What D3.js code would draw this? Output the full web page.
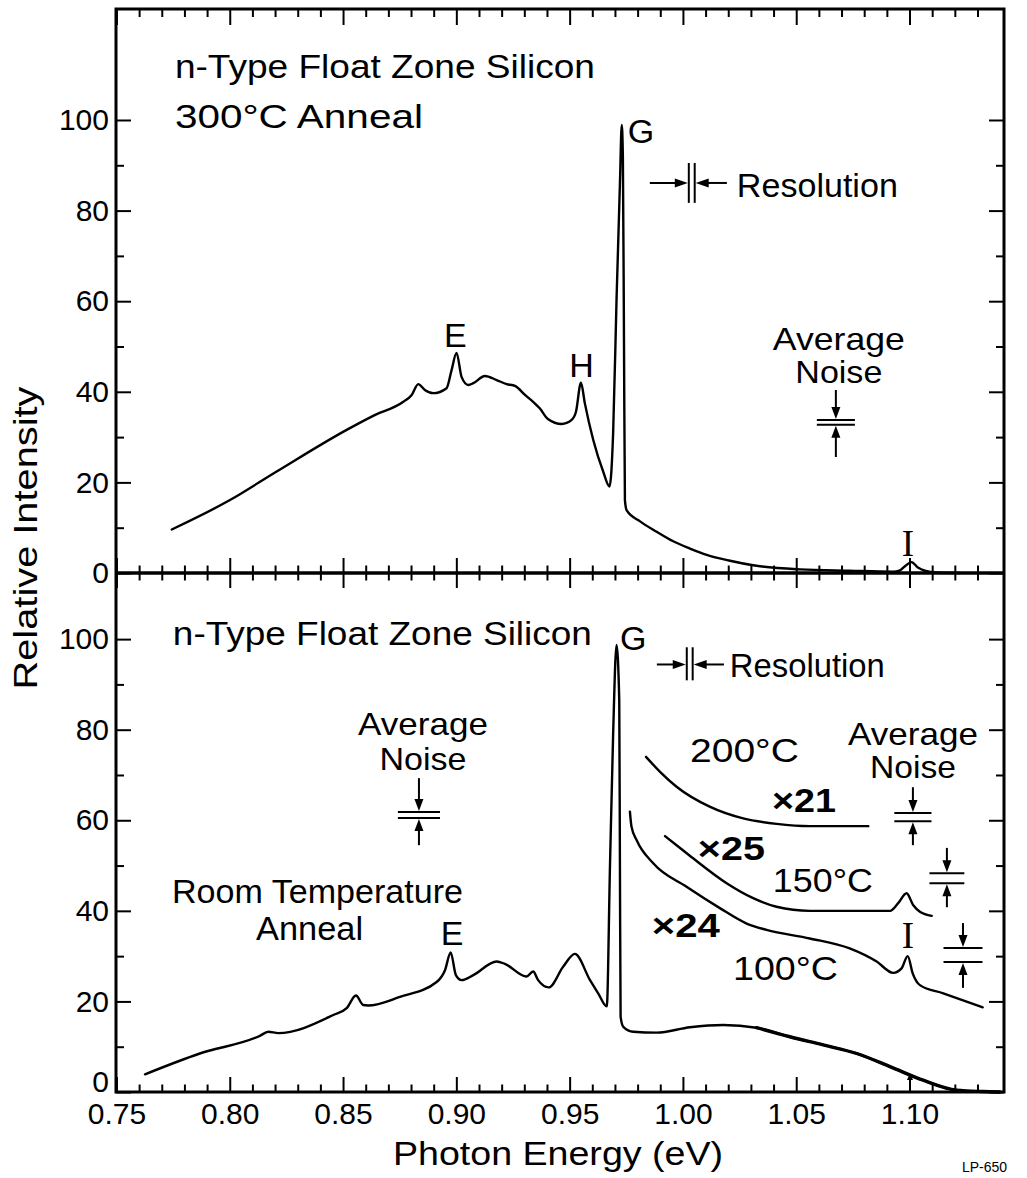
<!DOCTYPE html>
<html><head><meta charset="utf-8">
<script src="https://cdn.jsdelivr.net/npm/d3@7"></script>
<style>
body{margin:0;background:#fff}
svg{display:block}
</style>
</head><body>
<svg id="c" width="1027" height="1178"></svg>
<script>
// ---------- data ----------
const xMajorTicks = [0.75, 0.80, 0.85, 0.90, 0.95, 1.00, 1.05, 1.10];
const xMinorTicks = d3.range(75, 114).map(d => d / 100);
const yMajorTicks = [0, 20, 40, 60, 80, 100];
const yMinorTicks = [10, 30, 50, 70, 90];

// Upper panel: 300 °C anneal
const anneal300Energy = [0.7744,0.8001,0.8207,0.8516,0.8633,0.8766,0.8803,0.8832,0.8861,0.8898,0.8957,0.8979,0.9001,0.9023,0.9053,0.9075,0.9126,0.9178,0.9222,0.9259,0.9303,0.9339,0.9369,0.9404,0.9465,0.9509,0.9528,0.9550,0.9567,0.9604,0.9648,0.9676,0.9692,0.9707,0.9722,0.9730,0.9735,0.9740,0.9744,0.9752,0.9811,0.9884,0.9957,1.0031,1.0105,1.0208,1.0310,1.0517,1.0736,1.0927,1.0958,1.0980,1.1009,1.1037,1.1068,1.1121,1.1222];
const anneal300Intensity = [9.6,16.1,22.4,31.6,34.7,37.8,39.3,41.7,40.4,39.7,40.8,44.8,48.6,43.3,41.5,41.9,43.5,42.6,41.7,41.3,39.3,37.8,36.3,34.0,32.9,33.8,35.6,42.0,37.5,29.4,22.4,19.1,30.9,60.3,86,98.9,92,50,16.1,13.8,11.4,9.1,7.0,5.4,4.0,2.7,1.7,0.8,0.5,0.3,0.6,1.5,2.4,1.2,0.5,0.1,0];

// Lower panel: room temperature anneal
const roomEnergy = [0.7626,0.7868,0.8133,0.8170,0.8214,0.8457,0.8516,0.8557,0.8589,0.8611,0.8751,0.8913,0.8950,0.8975,0.8998,0.9023,0.9075,0.9178,0.9214,0.9310,0.9339,0.9361,0.9408,0.9472,0.9523,0.9590,0.9626,0.9664,0.9678,0.9692,0.9707,0.9719,0.9722,0.9725,0.9737,0.9781,0.9884,1.0031,1.0178,1.0325,1.0472,1.0619,1.0767,1.0914,1.1060,1.1208,1.1324,1.1399];
const roomIntensity = [3.9,8.5,12.4,13.3,13.0,17.0,18.5,21.3,19.2,19.1,21.0,24.3,26.9,30.8,25.8,24.7,25.8,28.8,28.3,25.5,26.6,24.7,23.1,27.7,30.5,24.7,21.8,18.9,49.7,79,98.7,86.5,49.7,16.6,14.4,13.3,13.1,14.3,14.8,14.2,12.2,10.4,8.5,5.6,2.6,0.4,0.1,0];

// Lower panel: scaled spectra
const anneal200Energy = [0.9837,0.9899,0.9972,1.0118,1.0266,1.0413,1.0560,1.0818];
const anneal200Intensity = [74.0,70.7,67.4,63.0,60.4,59.2,58.7,58.7];
const anneal150Energy = [0.9921,0.9972,1.0045,1.0193,1.0310,1.0413,1.0560,1.0914,1.0950,1.0987,1.1016,1.1046,1.1098];
const anneal150Intensity = [56.5,54.5,51.6,46.1,42.8,40.9,40.0,40.0,41.7,43.9,41.3,39.8,38.9];
const anneal100Energy = [0.9766,0.9773,0.9796,0.9869,1.0016,1.0163,1.0281,1.0369,1.0560,1.0736,1.0855,1.0928,1.0965,1.0992,1.1014,1.1046,1.1149,1.1323];
const anneal100Intensity = [61.9,58.6,55.6,50.5,45.3,40.6,37.2,35.8,33.9,31.7,28.8,26.3,27.3,30.0,26.2,23.6,21.8,18.7];

// ---------- annotations (data coordinates) ----------
const notesTop = [
  {text:"n-Type Float Zone Silicon", e:0.7758, v:109.3, anchor:"start", len:420},
  {text:"300°C Anneal", e:0.7758, v:98.2, anchor:"start", len:248},
  {text:"E", e:0.8996, v:49.9, anchor:"middle"},
  {text:"H", e:0.9552, v:43.3, anchor:"middle"},
  {text:"G", e:0.9757, v:94.9, anchor:"start"},
  {text:"I", e:1.0993, v:3.75, anchor:"middle", serif:true},
  {text:"Resolution", e:1.0238, v:83.0, anchor:"start", len:161},
  {text:"Average", e:1.0688, v:49.2, anchor:"middle", len:132, small:true},
  {text:"Noise", e:1.0688, v:41.9, anchor:"middle", len:87, small:true}
];
const notesBottom = [
  {text:"n-Type Float Zone Silicon", e:0.7749, v:98.7, anchor:"start", len:419},
  {text:"G", e:0.9722, v:97.6, anchor:"start"},
  {text:"Resolution", e:1.0207, v:91.6, anchor:"start", len:155},
  {text:"Average", e:0.8853, v:78.8, anchor:"middle", len:130, small:true},
  {text:"Noise", e:0.8853, v:71.1, anchor:"middle", len:87, small:true},
  {text:"Room Temperature", e:0.7745, v:41.7, anchor:"start", len:291},
  {text:"Anneal", e:0.8116, v:33.6, anchor:"start", len:107},
  {text:"E", e:0.8981, v:32.5, anchor:"middle"},
  {text:"200°C", e:1.0031, v:72.8, anchor:"start", len:109},
  {text:"×21", e:1.0393, v:61.8, anchor:"start", len:64, bold:true},
  {text:"×25", e:1.0066, v:51.2, anchor:"start", len:67, bold:true},
  {text:"150°C", e:1.0397, v:44.2, anchor:"start", len:100},
  {text:"×24", e:0.9863, v:34.2, anchor:"start", len:68, bold:true},
  {text:"100°C", e:1.0221, v:24.7, anchor:"start", len:105},
  {text:"I", e:1.0993, v:31.8, anchor:"middle", serif:true},
  {text:"Average", e:1.1015, v:76.6, anchor:"middle", len:130, small:true},
  {text:"Noise", e:1.1015, v:69.3, anchor:"middle", len:86, small:true}
];
const noiseTop = [{e:1.0675, hi:33.8, lo:32.7, from:40.4, to:25.6, hw:0.0084}];
const noiseBottom = [
  {e:0.8835, hi:61.8, lo:60.5, from:69.3, to:54.5, hw:0.0093},
  {e:1.1015, hi:61.6, lo:59.8, from:67.3, to:54.5, hw:0.0082},
  {e:1.1165, hi:48.3, lo:46.1, from:53.9, to:40.8, hw:0.0077},
  {e:1.1236, hi:31.8, lo:28.7, from:37.3, to:23.0, hw:0.0086}
];
const resTop = [{e1:1.0026, e2:1.0052, v:86.1, vt:90.5, vb:81.7, left:0.9854, right:1.0194}];
const resBottom = [{e1:1.0017, e2:1.0043, v:94.4, vt:98.2, vb:90.9, left:0.9885, right:1.0181}];

// ---------- layout ----------
const F = {left:116, right:1004, top:9, mid:573, bottom:1092};
const FONT = '"Liberation Sans", Arial, sans-serif';
const svg = d3.select("#c");
const x = d3.scaleLinear().domain([0.7498, 1.1417]).range([F.left, F.right]);
const yT = d3.scaleLinear().domain([0, 124.5]).range([F.mid, F.top]);
const yB = d3.scaleLinear().domain([0, 114.6]).range([F.bottom, F.mid]);

function styleAxis(g){
  g.select(".domain").remove();
  g.selectAll(".tick line").attr("stroke","#000").attr("stroke-width",2);
  g.attr("font-family", FONT).attr("font-size", 30);
  g.selectAll("text").attr("fill","#000");
}
// y axes
[yT, yB].forEach((y, idx)=>{
  const gl = svg.append("g").attr("transform",`translate(${F.left},0)`)
    .call(d3.axisLeft(y).tickValues(yMajorTicks).tickSizeInner(-15).tickSizeOuter(0).tickPadding(7).tickFormat(d3.format("d"))).call(styleAxis);
  if(idx===1){ gl.selectAll(".tick").filter(d=>d===0).select("text").attr("y",-10); }
  svg.append("g").attr("transform",`translate(${F.left},0)`)
    .call(d3.axisLeft(y).tickValues(yMinorTicks).tickSizeInner(-8).tickSizeOuter(0).tickFormat("")).call(styleAxis);
  svg.append("g").attr("transform",`translate(${F.right},0)`)
    .call(d3.axisRight(y).tickValues(yMajorTicks).tickSizeInner(-15).tickSizeOuter(0).tickFormat("")).call(styleAxis);
  svg.append("g").attr("transform",`translate(${F.right},0)`)
    .call(d3.axisRight(y).tickValues(yMinorTicks).tickSizeInner(-8).tickSizeOuter(0).tickFormat("")).call(styleAxis);
});
// x axes
const minorOnly = xMinorTicks.filter(t => !xMajorTicks.some(m => Math.abs(m-t)<1e-6));
function xAxisPair(axisFn, yPos, size, labels){
  svg.append("g").attr("transform",`translate(0,${yPos})`)
    .call(axisFn(x).tickValues(xMajorTicks).tickSizeInner(-size).tickSizeOuter(0).tickPadding(11)
      .tickFormat(labels ? d3.format(".2f") : "")).call(styleAxis);
  svg.append("g").attr("transform",`translate(0,${yPos})`)
    .call(axisFn(x).tickValues(minorOnly).tickSizeInner(-size/2).tickSizeOuter(0).tickFormat("")).call(styleAxis);
}
xAxisPair(d3.axisBottom, F.bottom, 15, true);
xAxisPair(d3.axisTop, F.top, 16, false);
xAxisPair(d3.axisBottom, F.mid, 15, false);
xAxisPair(d3.axisTop, F.mid, 15, false);

// frame
svg.append("rect").attr("x",F.left).attr("y",F.top).attr("width",F.right-F.left).attr("height",F.bottom-F.top)
  .attr("fill","none").attr("stroke","#000").attr("stroke-width",3);
svg.append("line").attr("x1",F.left).attr("x2",F.right).attr("y1",F.mid).attr("y2",F.mid)
  .attr("stroke","#000").attr("stroke-width",3.5);

// curves
const lineOf = y => d3.line().x(d=>x(d[0])).y(d=>y(d[1])).curve(d3.curveMonotoneX);
function drawSeries(E, I, y, w){
  const pts = E.map((e,i)=>[e, I[i]]);
  svg.append("path").datum(pts)
    .attr("d", lineOf(y))
    .attr("fill","none").attr("stroke","#000").attr("stroke-width",w||2.4)
    .attr("stroke-linejoin","round").attr("stroke-linecap","round");
  return pts;
}
drawSeries(anneal300Energy, anneal300Intensity, yT);
const roomPts = drawSeries(roomEnergy, roomIntensity, yB);
// noisier tail of the room-temperature spectrum drawn heavier
svg.append("path").datum(roomPts.filter(d=>d[0]>=1.0325))
  .attr("d", lineOf(yB))
  .attr("fill","none").attr("stroke","#000").attr("stroke-width",3.4).attr("stroke-linecap","round");
drawSeries(anneal200Energy, anneal200Intensity, yB);
drawSeries(anneal150Energy, anneal150Intensity, yB);
drawSeries(anneal100Energy, anneal100Intensity, yB);

// annotations
function drawNotes(notes, y){
  notes.forEach(n=>{
    const t = svg.append("text").attr("x",x(n.e)).attr("y",y(n.v))
      .attr("text-anchor",n.anchor).attr("fill","#000")
      .attr("font-family", n.serif ? '"Liberation Serif", serif' : FONT)
      .attr("font-size", n.serif ? 37 : (n.small ? 32 : 34))
      .attr("font-weight", n.bold ? "bold" : "normal")
      .text(n.text);
    if(n.len){ t.attr("textLength",n.len).attr("lengthAdjust","spacingAndGlyphs"); }
  });
}
drawNotes(notesTop, yT);
drawNotes(notesBottom, yB);

function tri(tx, ty, dx, dy, len, half){
  const bx = tx - dx*len, by = ty - dy*len;
  const px = -dy*half, py = dx*half;
  svg.append("path").attr("d",`M${tx},${ty}L${bx+px},${by+py}L${bx-px},${by-py}Z`).attr("fill","#000");
}
function drawNoise(list, y){
  list.forEach(n=>{
    const cx = x(n.e);
    [n.hi, n.lo].forEach(v=>svg.append("line").attr("x1",x(n.e-n.hw)).attr("x2",x(n.e+n.hw))
      .attr("y1",y(v)).attr("y2",y(v)).attr("stroke","#000").attr("stroke-width",2));
    svg.append("line").attr("x1",cx).attr("x2",cx).attr("y1",y(n.from)).attr("y2",y(n.hi)-6).attr("stroke","#000").attr("stroke-width",2);
    svg.append("line").attr("x1",cx).attr("x2",cx).attr("y1",y(n.lo)+6).attr("y2",y(n.to)).attr("stroke","#000").attr("stroke-width",2);
    tri(cx, y(n.hi)-1, 0, 1, 12, 4.5);
    tri(cx, y(n.lo)+1, 0, -1, 12, 4.5);
  });
}
drawNoise(noiseTop, yT);
drawNoise(noiseBottom, yB);

function drawRes(list, y){
  list.forEach(r=>{
    [r.e1, r.e2].forEach(e=>svg.append("line").attr("x1",x(e)).attr("x2",x(e)).attr("y1",y(r.vt)).attr("y2",y(r.vb))
      .attr("stroke","#000").attr("stroke-width",2));
    const yy = y(r.v);
    svg.append("line").attr("x1",x(r.left)).attr("x2",x(r.e1)-6).attr("y1",yy).attr("y2",yy).attr("stroke","#000").attr("stroke-width",2);
    svg.append("line").attr("x1",x(r.e2)+6).attr("x2",x(r.right)).attr("y1",yy).attr("y2",yy).attr("stroke","#000").attr("stroke-width",2);
    tri(x(r.e1)-1, yy, 1, 0, 13, 4.5);
    tri(x(r.e2)+1, yy, -1, 0, 13, 4.5);
  });
}
drawRes(resTop, yT);
drawRes(resBottom, yB);

// small marker arrow at the I line on the lower axis
svg.append("line").attr("x1",x(1.1002)).attr("x2",x(1.1002)).attr("y1",yB(0)).attr("y2",yB(3.5)).attr("stroke","#000").attr("stroke-width",1.5);
tri(x(1.1002), yB(4.2), 0, -1, 7, 3);

// axis titles
svg.append("text").attr("x",558).attr("y",1165).attr("text-anchor","middle")
  .attr("font-family",FONT).attr("font-size",34).attr("fill","#000")
  .attr("textLength",330).attr("lengthAdjust","spacingAndGlyphs").text("Photon Energy (eV)");
svg.append("text").attr("transform","translate(37,538) rotate(-90)").attr("text-anchor","middle")
  .attr("font-family",FONT).attr("font-size",34).attr("fill","#000")
  .attr("textLength",303).attr("lengthAdjust","spacingAndGlyphs").text("Relative Intensity");
svg.append("text").attr("x",962).attr("y",1172).attr("font-family",FONT).attr("font-size",14).attr("fill","#000").text("LP-650");
</script>
</body></html>
